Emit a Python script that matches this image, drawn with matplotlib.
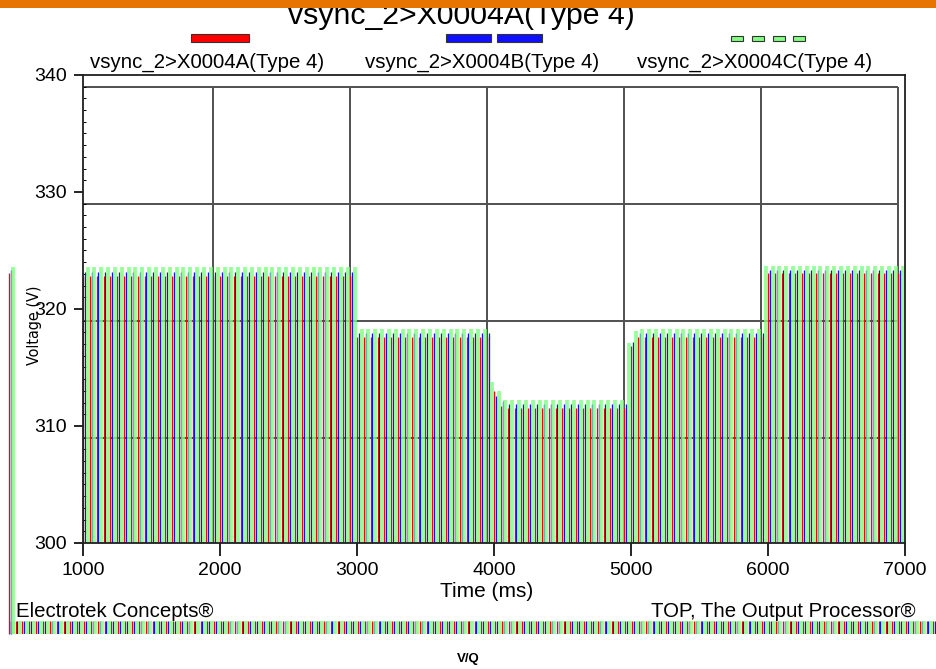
import numpy as np
import matplotlib
matplotlib.use("Agg")
import matplotlib.pyplot as plt
from matplotlib import font_manager as fm
from matplotlib.patches import Rectangle

W, H = 936, 669

# peak voltage envelope per phase, as steps (start time of each step in ms)
step_start = [1000, 2985, 3975, 4010, 4040, 4080, 4970, 4990, 5015, 5050, 5965]
peak_a = [322.8, 317.6, 313.0, 312.2, 311.7, 311.5, 316.0, 316.8, 317.3, 317.6, 323.05]
peak_b = [323.2, 317.95, 313.4, 312.6, 312.1, 311.9, 316.6, 317.2, 317.7, 317.95, 323.3]
peak_c = [323.6, 318.3, 313.8, 313.0, 312.5, 312.2, 317.1, 317.6, 318.1, 318.3, 323.7]

series = ["vsync_2>X0004A(Type 4)", "vsync_2>X0004B(Type 4)", "vsync_2>X0004C(Type 4)"]
colors = ["#ff0000", "#1010ff", "#80ff80"]

x_ticks = [1000, 2000, 3000, 4000, 5000, 6000, 7000]
y_ticks = [300, 310, 320, 330, 340]
grid_x = [1950, 2950, 3950, 4950, 5950, 6950]
grid_y = [309, 319, 329, 339]

period = 50             # ms between drawn sample columns of one phase
offsets = [0, 13, 33]   # ms, phase shift of the columns
t_end = 6990

FONT = "Liberation Sans"
plt.rcParams["font.family"] = [FONT, "DejaVu Sans"]

# condensed face for the y label if one is installed
faces = [(f.name, f.stretch) for f in fm.fontManager.ttflist]
if any(n == "Liberation Sans Narrow" for n, _ in faces):
    ylab_font = dict(family=["Liberation Sans Narrow"], fontsize=12.5)
elif any(n == "DejaVu Sans" and s == "condensed" for n, s in faces):
    ylab_font = dict(family=["DejaVu Sans"], fontstretch="condensed", fontsize=11.5)
else:
    ylab_font = dict(family=[FONT], fontsize=11.5)


def px(x, y):
    return x / W, 1 - y / H


def envelope(t, levels):
    idx = np.searchsorted(step_start, t, side="right") - 1
    return np.asarray(levels)[np.clip(idx, 0, len(levels) - 1)]


fig = plt.figure(figsize=(W / 100, H / 100), dpi=100)
ax = fig.add_axes([83 / W, 1 - 543 / H, (905 - 83) / W, (543 - 75) / H])
ax.set_xlim(1000, 7000)
ax.set_ylim(300, 340)

# offset grid box
ax.hlines(grid_y, 1000, grid_x[-1], color="#505050", lw=1.4, zorder=1)
ax.vlines(grid_x, 300, grid_y[-1], color="#505050", lw=1.4, zorder=1)

# waveform columns
levels = [peak_a, peak_b, peak_c]
widths = [0.95, 0.95, 2.7]
alphas = [1.0, 1.0, 0.82]
for k in range(3):
    t = np.arange(1000 + offsets[k], t_end, period)
    ax.vlines(t, 290, envelope(t, levels[k]), color=colors[k], lw=widths[k],
              alpha=alphas[k], zorder=2 + k)

# stray columns left of the frame
stray_t = [458, 471, 491]
stray_v = [323.1, 323.3, 323.6]
for k in range(3):
    ax.vlines(stray_t[k], 292.2, stray_v[k], color=colors[k], lw=widths[k],
              alpha=alphas[k], clip_on=False, zorder=2 + k)

for s in ax.spines.values():
    s.set_linewidth(1.3)
    s.set_color("#202020")
    s.set_zorder(6)

ax.set_xticks(x_ticks)
ax.set_yticks(y_ticks)
ax.set_yticks(np.arange(300, 341, 1), minor=True)
ax.tick_params(axis="x", direction="out", length=9, width=1.2, pad=5, labelsize=14)
ax.tick_params(axis="y", direction="out", length=6.5, width=1.2, pad=5, labelsize=14)
ax.tick_params(axis="y", which="minor", direction="in", length=2.5, width=0.7)
ax.tick_params(axis="x", which="minor", bottom=False)

# legend above the plot
fig.text(*px(461, 24), "vsync_2>X0004A(Type 4)", ha="center", va="baseline", fontsize=21.8)
swatches = [
    [(191, 34, 58, 8)],
    [(446, 34, 45, 8), (497, 34, 45, 8)],
    [(731, 36, 12, 5), (752, 36, 12, 5), (773, 36, 12, 5), (793, 36, 12, 5)],
]
label_x = [207, 482, 755]
for k in range(3):
    for (x0, y0, w, h) in swatches[k]:
        fig.patches.append(Rectangle(px(x0, y0 + h), w / W, h / H, transform=fig.transFigure,
                                     facecolor=colors[k], edgecolor="#333333", lw=0.8))
    fig.text(*px(label_x[k], 68), series[k], ha="center", va="baseline", fontsize=14.7)

fig.text(*px(35, 325), "Voltage (V)", rotation=90, ha="center", va="center", **ylab_font)
fig.text(*px(487, 597), "Time (ms)", ha="center", va="baseline", fontsize=15)
fig.text(*px(16, 617), "Electrotek Concepts®", ha="left", va="baseline", fontsize=14.7)
fig.text(*px(916, 617), "TOP, The Output Processor®", ha="right", va="baseline", fontsize=14.7)
fig.text(*px(468, 662), "V/Q", ha="center", va="baseline", fontsize=9.5, fontweight="bold")

# strip of columns along the bottom
band = fig.add_axes([9 / W, 1 - 634 / H, (936 - 9) / W, 13 / H])
band.set_xlim(1000 - 74 * 6000 / 822, 1000 + 853 * 6000 / 822)
band.set_ylim(0, 1)
band.axis("off")
for k in range(3):
    t = np.arange(458 + offsets[k], 7240, period)
    band.vlines(t, 0, 1, color=colors[k], lw=widths[k], alpha=alphas[k])

# orange header bar
fig.patches.append(Rectangle((0, 1 - 8 / H), 1, 8 / H, transform=fig.transFigure,
                             facecolor="#e77400", edgecolor="none", zorder=10))

fig.savefig("out.png", dpi=100)
